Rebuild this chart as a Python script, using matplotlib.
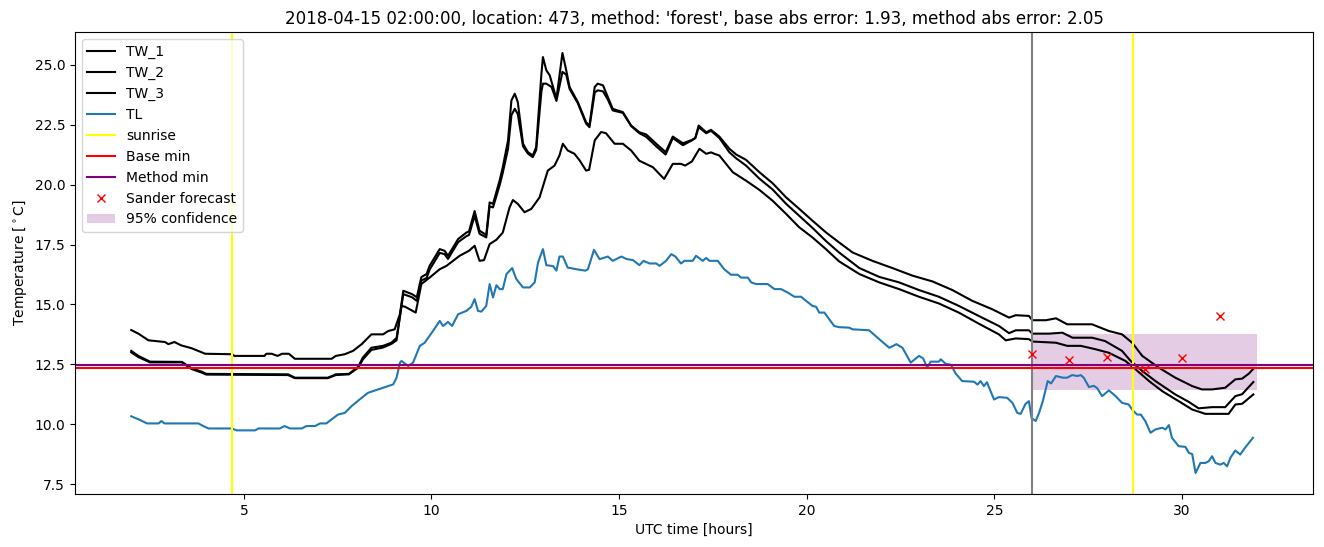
import matplotlib
matplotlib.use("Agg")
import matplotlib.pyplot as plt

# values, hours since 2018-04-15 00:00 UTC
tw1_t = [2.0, 2.19, 2.46, 2.9, 2.99, 3.15, 3.33, 3.61, 3.97, 4.68, 4.75, 5.55, 5.6, 5.74, 5.9, 6.02, 6.2, 6.36,
         7.34, 7.45, 7.69, 7.91, 8.14, 8.4, 8.71, 8.85, 9.02, 9.16, 9.25, 9.48, 9.61, 9.73, 9.87, 9.95, 10.22,
         10.35, 10.44, 10.71, 10.93, 11.0, 11.15, 11.28, 11.46, 11.55, 11.64, 11.82, 11.9, 12.04, 12.13, 12.22,
         12.3, 12.44, 12.57, 12.7, 12.79, 12.93, 12.97, 13.06, 13.15, 13.33, 13.49, 13.59, 13.68, 13.9, 14.12,
         14.21, 14.35, 14.43, 14.57, 14.7, 14.83, 15.1, 15.32, 15.54, 15.72, 15.99, 16.24, 16.43, 16.7, 16.94,
         17.03, 17.12, 17.32, 17.45, 17.67, 17.94, 18.12, 18.38, 18.74, 19.09, 19.45, 19.8, 20.15, 20.51, 20.86,
         21.22, 21.75, 22.28, 22.82, 23.35, 23.88, 24.41, 24.94, 25.39, 25.57, 25.92, 26.01, 26.37, 26.64, 26.94,
         27.6, 28.05, 28.4, 28.67, 28.94, 29.38, 29.82, 30.27, 30.53, 30.8, 31.15, 31.42, 31.6, 31.78, 31.91]
tw1 = [13.93, 13.78, 13.5, 13.43, 13.34, 13.43, 13.29, 13.17, 12.94, 12.92, 12.85, 12.85, 12.94, 12.94, 12.85,
       12.94, 12.94, 12.73, 12.73, 12.85, 12.92, 13.06, 13.34, 13.75, 13.75, 13.89, 13.96, 14.6, 15.57, 15.43,
       15.3, 16.14, 16.27, 16.61, 17.31, 17.24, 17.03, 17.73, 18.0, 18.05, 18.9, 18.08, 17.9, 19.26, 19.2, 20.2,
       20.73, 21.85, 23.52, 23.8, 23.45, 21.71, 21.36, 21.22, 21.57, 24.64, 25.33, 24.78, 24.57, 23.59, 25.5,
       24.78, 24.08, 23.45, 22.61, 22.47, 24.08, 24.22, 24.15, 23.66, 23.17, 23.03, 22.47, 22.19, 22.1, 21.71,
       21.36, 22.01, 21.73, 21.87, 21.95, 22.47, 22.19, 22.29, 22.01, 21.5, 21.26, 21.04, 20.52, 20.06, 19.47,
       18.99, 18.5, 18.01, 17.59, 17.17, 16.82, 16.52, 16.2, 15.96, 15.6, 15.15, 14.8, 14.45, 14.55, 14.52,
       14.34, 14.34, 14.42, 14.17, 14.17, 13.89, 13.75, 13.4, 12.85, 12.36, 11.94, 11.59, 11.45, 11.45, 11.52,
       11.87, 11.9, 12.11, 12.33]

tw2_t = [2.0, 2.19, 2.5, 3.35, 3.61, 3.88, 4.0, 6.18, 6.36, 7.24, 7.45, 7.8, 8.05, 8.17, 8.4, 8.71, 8.93, 9.07,
         9.25, 9.48, 9.61, 9.73, 9.87, 9.95, 10.22, 10.35, 10.44, 10.71, 10.93, 11.0, 11.15, 11.28, 11.46, 11.55,
         11.64, 11.82, 11.9, 12.04, 12.13, 12.22, 12.3, 12.44, 12.57, 12.7, 12.79, 12.93, 12.97, 13.06, 13.2,
         13.33, 13.49, 13.59, 13.68, 13.9, 14.12, 14.21, 14.35, 14.43, 14.57, 14.7, 14.83, 15.1, 15.32, 15.54,
         15.72, 15.99, 16.24, 16.43, 16.7, 16.94, 17.03, 17.12, 17.32, 17.45, 17.67, 17.94, 18.12, 18.38, 18.74,
         19.09, 19.45, 19.8, 20.15, 20.51, 20.86, 21.4, 21.93, 22.46, 22.99, 23.52, 24.05, 24.58, 25.12, 25.39,
         25.57, 25.92, 26.01, 26.46, 26.81, 27.08, 27.6, 27.95, 28.4, 28.63, 28.94, 29.29, 29.82, 30.18, 30.44,
         30.8, 31.15, 31.42, 31.6, 31.9]
tw2 = [13.06, 12.85, 12.61, 12.6, 12.33, 12.19, 12.1, 12.08, 11.94, 11.94, 12.08, 12.1, 12.4, 12.78, 13.19,
       13.27, 13.4, 13.6, 15.43, 15.3, 15.15, 16.0, 16.1, 16.45, 17.15, 17.1, 16.9, 17.6, 17.85, 17.9, 18.7,
       17.95, 17.8, 19.1, 19.05, 20.0, 20.5, 21.5, 22.9, 23.17, 22.95, 21.6, 21.3, 21.15, 21.45, 23.9, 24.22,
       24.22, 24.08, 23.5, 24.71, 24.6, 24.0, 23.4, 22.55, 22.4, 23.85, 23.94, 23.9, 23.55, 23.1, 23.0, 22.45,
       22.15, 22.0, 21.6, 21.26, 21.95, 21.65, 21.85, 21.95, 22.4, 22.15, 22.25, 21.95, 21.35, 21.1, 20.8,
       20.25, 19.8, 19.2, 18.7, 18.2, 17.65, 17.17, 16.52, 16.15, 15.92, 15.6, 15.32, 14.94, 14.52, 14.1, 13.8,
       13.92, 13.92, 13.78, 13.78, 13.82, 13.61, 13.61, 13.47, 13.06, 12.64, 12.22, 11.8, 11.24, 10.93, 10.66,
       10.71, 10.71, 11.17, 11.25, 11.76]

tw3_t = [2.0, 2.19, 2.5, 3.35, 3.61, 3.88, 4.0, 6.18, 6.36, 7.24, 7.45, 7.8, 8.05, 8.17, 8.4, 8.71, 8.93, 9.07,
         9.2, 9.3, 9.58, 9.73, 9.95, 10.22, 10.4, 10.75, 11.0, 11.15, 11.28, 11.4, 11.55, 11.73, 11.9, 12.08,
         12.17, 12.3, 12.48, 12.66, 12.88, 13.1, 13.28, 13.41, 13.5, 13.63, 13.81, 13.95, 14.12, 14.2, 14.35,
         14.52, 14.65, 14.88, 15.1, 15.32, 15.54, 15.9, 16.2, 16.43, 16.65, 16.76, 16.94, 17.14, 17.32, 17.45,
         17.54, 17.67, 18.03, 18.38, 18.74, 19.09, 19.45, 19.8, 20.15, 20.51, 20.86, 21.4, 21.93, 22.46, 22.99,
         23.52, 24.05, 24.58, 25.12, 25.3, 25.57, 25.92, 26.01, 26.64, 26.94, 27.3, 27.69, 28.05, 28.49, 28.76,
         29.12, 29.47, 29.91, 30.27, 30.62, 31.24, 31.42, 31.6, 31.9]
tw3 = [13.0, 12.8, 12.58, 12.58, 12.3, 12.15, 12.07, 12.05, 11.92, 11.92, 12.05, 12.08, 12.36, 12.7, 13.1, 13.2,
       13.35, 13.5, 14.94, 14.9, 14.66, 15.85, 16.12, 16.47, 16.61, 17.03, 17.24, 17.45, 16.82, 16.85, 17.52,
       17.7, 18.0, 19.05, 19.36, 19.2, 18.85, 18.99, 19.47, 20.59, 20.8, 21.22, 21.71, 21.43, 21.29, 21.01,
       20.59, 20.62, 21.85, 22.2, 22.15, 21.71, 21.71, 21.43, 21.0, 20.73, 20.24, 20.87, 20.87, 20.8, 20.97,
       21.5, 21.29, 21.35, 21.29, 21.22, 20.52, 20.17, 19.78, 19.33, 18.78, 18.22, 17.8, 17.31, 16.8, 16.27,
       15.92, 15.64, 15.32, 15.04, 14.66, 14.2, 13.75, 13.5, 13.58, 13.55, 13.45, 13.4, 13.27, 13.27, 13.13,
       12.98, 12.64, 12.29, 11.8, 11.38, 10.96, 10.61, 10.43, 10.43, 10.82, 10.85, 11.24]

tl_t = [2.0, 2.1, 2.2, 2.42, 2.73, 2.8, 2.89, 3.79, 3.92, 4.06, 4.68, 4.81, 5.3, 5.39, 5.96, 6.08, 6.23, 6.54,
        6.67, 6.9, 7.03, 7.2, 7.34, 7.51, 7.69, 7.87, 8.14, 8.31, 8.58, 8.85, 8.98, 9.07, 9.16, 9.2, 9.38, 9.51,
        9.69, 9.82, 10.04, 10.22, 10.31, 10.44, 10.55, 10.71, 10.93, 11.06, 11.15, 11.24, 11.33, 11.46, 11.55,
        11.64, 11.73, 11.82, 11.9, 12.0, 12.15, 12.26, 12.44, 12.62, 12.75, 12.84, 12.97, 13.06, 13.24, 13.33,
        13.41, 13.5, 13.63, 13.86, 14.1, 14.17, 14.33, 14.48, 14.7, 14.83, 15.06, 15.19, 15.37, 15.54, 15.65,
        15.81, 15.99, 16.08, 16.25, 16.39, 16.5, 16.65, 16.74, 16.96, 17.05, 17.23, 17.32, 17.41, 17.63, 17.8,
        17.98, 18.16, 18.25, 18.43, 18.52, 18.65, 18.96, 19.14, 19.31, 19.49, 19.67, 19.85, 19.98, 20.15, 20.25,
        20.33, 20.47, 20.6, 20.73, 20.86, 21.13, 21.22, 21.66, 21.93, 22.2, 22.39, 22.55, 22.77, 22.99, 23.1,
        23.21, 23.3, 23.52, 23.57, 23.7, 23.84, 23.97, 24.14, 24.46, 24.55, 24.63, 24.72, 24.8, 24.99, 25.12,
        25.34, 25.48, 25.61, 25.7, 25.83, 25.92, 25.99, 26.1, 26.19, 26.29, 26.42, 26.51, 26.64, 26.82, 26.94,
        27.07, 27.21, 27.3, 27.38, 27.52, 27.65, 27.74, 27.87, 28.05, 28.23, 28.4, 28.58, 28.67, 28.8, 28.9,
        29.02, 29.16, 29.29, 29.47, 29.56, 29.65, 29.73, 29.91, 30.09, 30.18, 30.27, 30.36, 30.49, 30.62, 30.71,
        30.8, 30.89, 31.02, 31.11, 31.2, 31.29, 31.42, 31.55, 31.69, 31.82, 31.89]
tl = [10.33, 10.26, 10.2, 10.03, 10.03, 10.13, 10.03, 10.03, 9.92, 9.82, 9.82, 9.74, 9.74, 9.82, 9.82, 9.92, 9.82,
      9.82, 9.92, 9.92, 10.03, 10.03, 10.2, 10.4, 10.47, 10.75, 11.1, 11.31, 11.45, 11.59, 11.66, 11.94, 12.57,
      12.64, 12.43, 12.57, 13.27, 13.4, 13.89, 14.31, 14.1, 14.27, 14.1, 14.59, 14.73, 14.9, 15.22, 14.73, 14.7,
      14.94, 15.85, 15.29, 15.8, 15.64, 15.64, 16.27, 16.52, 16.06, 15.71, 15.71, 15.92, 16.75, 17.31, 16.64,
      16.6, 16.41, 17.0, 17.0, 16.54, 16.47, 16.41, 16.47, 17.28, 16.89, 17.0, 16.82, 17.0, 16.9, 16.85, 16.64,
      16.82, 16.71, 16.71, 16.61, 16.82, 17.1, 17.0, 16.71, 16.82, 16.82, 17.03, 16.82, 16.94, 16.82, 16.82,
      16.47, 16.24, 16.24, 16.12, 16.12, 15.92, 15.85, 15.85, 15.64, 15.64, 15.5, 15.32, 15.32, 15.15, 14.94,
      14.9, 14.66, 14.66, 14.38, 14.1, 14.05, 14.03, 13.96, 13.92, 13.55, 13.19, 13.34, 13.19, 12.57, 12.85,
      12.75, 12.36, 12.61, 12.61, 12.71, 12.52, 12.48, 12.11, 11.8, 11.77, 11.65, 11.8, 11.59, 11.75, 11.03,
      11.13, 11.1, 10.89, 10.47, 10.43, 10.85, 10.96, 10.26, 10.13, 10.47, 10.96, 11.8, 11.7, 12.01, 11.94,
      11.94, 12.05, 12.01, 12.05, 11.94, 11.55, 11.6, 11.5, 11.17, 11.41, 11.17, 10.89, 10.82, 10.61, 10.4,
      10.4, 10.13, 9.64, 9.78, 9.85, 9.78, 9.96, 9.43, 9.08, 9.05, 8.8, 8.75, 7.96, 8.38, 8.38, 8.45, 8.66, 8.38,
      8.31, 8.38, 8.24, 8.6, 8.9, 8.73, 9.04, 9.29, 9.43]

sunrise = [4.68, 28.68]
forecast_time = 26.0
base_min = 12.36
method_min = 12.47
sander_t = [26, 27, 28, 29, 30, 31]
sander = [12.92, 12.67, 12.80, 12.32, 12.75, 14.52]
conf_t = [26, 32]
conf_lo = 11.41
conf_hi = 13.78

fig, ax = plt.subplots(figsize=(13.24, 5.47), dpi=100)
fig.subplots_adjust(left=0.0566, right=0.992, top=0.9415, bottom=0.0969)

ax.plot(tw1_t, tw1, "k", label="TW_1")
ax.plot(tw2_t, tw2, "k", label="TW_2")
ax.plot(tw3_t, tw3, "k", label="TW_3")
ax.plot(tl_t, tl, color="C0", label="TL")
for i, s in enumerate(sunrise):
    ax.axvline(s, color="yellow", label="sunrise" if i == 0 else None)
ax.axvline(forecast_time, color="grey")
ax.axhline(base_min, color="red", label="Base min")
ax.axhline(method_min, color="purple", label="Method min")
ax.plot(sander_t, sander, "rx", label="Sander forecast")
ax.fill_between(conf_t, conf_lo, conf_hi, color="purple", alpha=0.2, linewidth=0, label="95% confidence")

ax.set_title("2018-04-15 02:00:00, location: 473, method: 'forest', base abs error: 1.93, method abs error: 2.05")
ax.set_xlabel("UTC time [hours]")
ax.set_ylabel("Temperature [$^\\circ$C]")
ax.legend(loc="upper left")

fig.savefig("out.png")
